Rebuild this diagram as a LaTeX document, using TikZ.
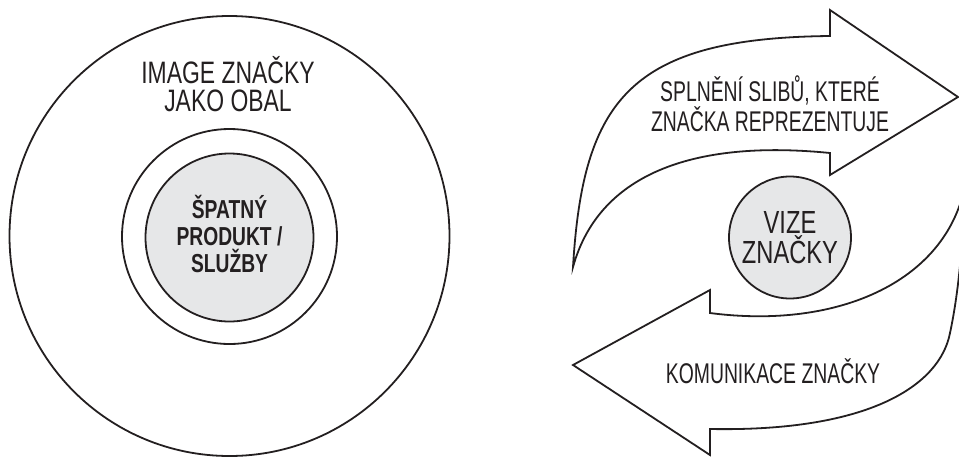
\documentclass[tikz,border=0pt]{standalone}
\usepackage{fontspec}
\setmainfont[FakeStretch=0.74]{Liberation Sans}
\newfontfamily\narrowfont[FakeStretch=0.68]{Liberation Sans}
\definecolor{ink}{RGB}{35,31,32}
\definecolor{shade}{RGB}{230,231,232}

\begin{document}
\begin{tikzpicture}[x=1pt, y=-1pt,
    ring/.style={circle, draw=ink, line width=1.8pt, inner sep=0pt},
    core/.style={ring, fill=shade, align=center, text=ink},
    flow/.style={draw=ink, line width=1.8pt, line join=miter, fill=white},
    caption/.style={align=center, text=ink, font=\narrowfont\fontsize{28.5}{28}\selectfont}
]
\useasboundingbox (0,0) rectangle (959,456);
\clip (0,0) rectangle (959,456);

% Left: product wrapped in the brand image
\node[ring, minimum size=440pt] (wrap) at (229.5,236) {};
\node[ring, minimum size=215pt] (gap) at (229.5,236.5) {};
\node[core, minimum size=168pt] (prod) at (229.5,237.5) {};
\node[align=center, text=ink, font=\bfseries\fontsize{26}{27}\selectfont] (prodtext) at (229.5,234) {ŠPATNÝ\\PRODUKT /\\SLUŽBY};
\node[align=center, text=ink, font=\fontsize{31}{28}\selectfont] (image) at (228,84) {IMAGE ZNAČKY\\JAKO OBAL};

% Right: promise arrow (top) and communication arrow (bottom)
\draw[flow] (573,267) .. controls (583,100) and (630,38) .. (830,36) -- (830,10) -- (958,97) -- (830,175) -- (830,153)
    .. controls (700,140) and (600,170) .. (573,267) -- cycle;
\draw[flow] (573,365) -- (710,290) -- (710,313) .. controls (840,330) and (950,280) .. (966,180)
    .. controls (962,260) and (957,300) .. (950,333) .. controls (940,385) and (870,432) .. (710,429) -- (710,455) -- cycle;

\node[caption] (promise) at (770,104) {SPLNĚNÍ SLIBŮ, KTERÉ\\ZNAČKA REPREZENTUJE};
\node[caption] (comm) at (773,371) {KOMUNIKACE ZNAČKY};
\node[core, minimum size=122pt, font=\fontsize{32}{30}\selectfont] (vision) at (790,237.5) {VIZE\\ZNAČKY};

\end{tikzpicture}
\end{document}
